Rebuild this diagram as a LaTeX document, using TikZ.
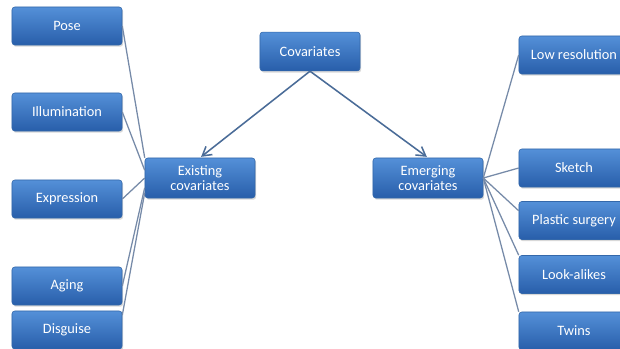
\documentclass[tikz,border=0pt]{standalone}
\usepackage{fontspec}
\setmainfont{Carlito}
\usepackage{tikz}
\usetikzlibrary{arrows.meta,shadows,positioning}

\definecolor{boxtop}{RGB}{84,144,216}
\definecolor{boxbot}{RGB}{40,94,170}
\definecolor{boxedge}{RGB}{52,104,170}
\definecolor{linkgray}{RGB}{118,138,168}
\definecolor{arrowblue}{RGB}{74,108,152}

\begin{document}
\begin{tikzpicture}[
  x=0.025cm, y=-0.025cm,
  box/.style  = {draw=boxedge, line width=0.4pt, rounded corners=2pt,
                 top color=boxtop, bottom color=boxbot,
                 text=white, font=\fontsize{10.2}{11}\selectfont, align=center,
                 inner sep=1pt,
                 drop shadow={opacity=0.3, shadow xshift=0.8pt, shadow yshift=-1.2pt}},
  sidebox/.style = {box, minimum width=2.75cm, minimum height=0.95cm},
  link/.style = {linkgray, line width=0.9pt},
  feed/.style = {arrowblue, line width=1.1pt, -{Straight Barb[length=2.2mm, width=2.6mm]}},
]
\clip (0,0) rectangle (620,349);
\fill[white] (0,0) rectangle (620,349);

%% ---- root ----------------------------------------------------------------
\node[box, minimum width=2.5cm, minimum height=0.97cm] (cov) at (310,51.5) {Covariates};
\node[box, minimum width=2.75cm, minimum height=1.0cm] (exist) at (200,178) {Existing\\covariates};
\node[box, minimum width=2.75cm, minimum height=1.0cm] (emerge) at (428,178) {Emerging\\covariates};

%% ---- existing covariates -------------------------------------------------
\node[sidebox] (pose)     at (67,26)  {Pose};
\node[sidebox] (illum)    at (67,112) {Illumination};
\node[sidebox] (expr)     at (67,199) {Expression};
\node[sidebox] (aging)    at (67,286) {Aging};
\node[sidebox] (disguise) at (67,330) {Disguise};

%% ---- emerging covariates -------------------------------------------------
\node[sidebox] (lowres)  at (574,55)    {Low resolution};
\node[sidebox] (sketch)  at (574,168)   {Sketch};
\node[sidebox] (plastic) at (574,220.5) {Plastic surgery};
\node[sidebox] (look)    at (574,274.5) {Look-alikes};
\node[sidebox] (twins)   at (574,331)   {Twins};

%% ---- connectors ----------------------------------------------------------
\draw[feed, shorten >=1pt] (cov.south) -- (exist.north);
\draw[feed, shorten >=1pt] (cov.south) -- (emerge.north);

\draw[link] (pose.east)     -- (exist.north west);
\draw[link] (illum.east)    -- (exist.172);
\draw[link] (expr.east)     -- (exist.west);
\draw[link] (aging.east)    -- (exist.190);
\draw[link] (disguise.15)   -- (exist.195);

\draw[link] (emerge.east) -- (lowres.west);
\draw[link] (emerge.east) -- (sketch.west);
\draw[link] (emerge.east) -- (plastic.170);
\draw[link] (emerge.east) -- (look.north west);
\draw[link] (emerge.east) -- (twins.north west);

\end{tikzpicture}
\end{document}
